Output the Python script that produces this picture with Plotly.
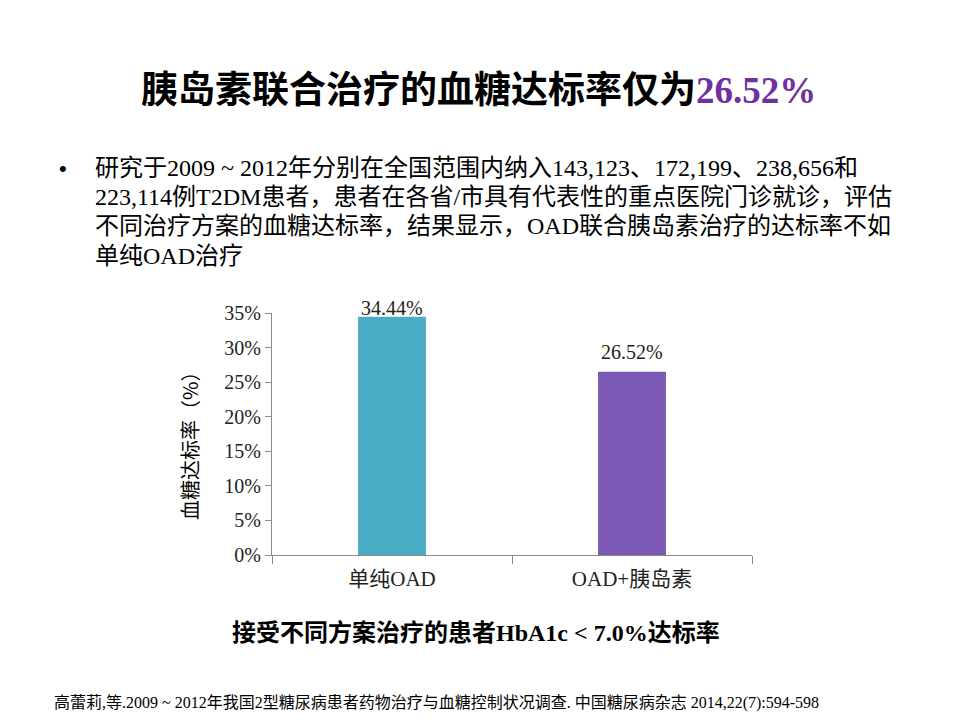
import plotly.graph_objects as go

# chart values
categories = ["单纯OAD", "OAD+胰岛素"]
rates = [34.44, 26.52]
rate_labels = ["34.44%", "26.52%"]
bar_colors = ["#4BACC6", "#7B59B5"]
y_ticks = [0, 5, 10, 15, 20, 25, 30, 35]

title_main = "胰岛素联合治疗的血糖达标率仅为"
title_value = "26.52%"
bullet_lines = [
    "研究于2009 ~ 2012年分别在全国范围内纳入143,123、172,199、238,656和",
    "223,114例T2DM患者，患者在各省/市具有代表性的重点医院门诊就诊，评估",
    "不同治疗方案的血糖达标率，结果显示，OAD联合胰岛素治疗的达标率不如",
    "单纯OAD治疗",
]
caption = "接受不同方案治疗的患者HbA1c < 7.0%达标率"
y_title = "血糖达标率（%）"
footer = ("高蕾莉,等.2009 ~ 2012年我国2型糖尿病患者药物治疗与血糖控制状况调查. "
          "中国糖尿病杂志 2014,22(7):594-598")

FONT = "Liberation Serif, Noto Sans CJK SC"
W, H = 960, 720
OFF = 8  # page body margin shifts the figure by this much
L, R, T, B = 272 - OFF, 208 + OFF, 313 - OFF, 165 + OFF


def px(x):
    # screen pixel x -> paper x
    return (x - OFF - L) / (W - L - R)


def py(y):
    # screen pixel y (from top) -> paper y
    return (H - B - (y - OFF)) / (H - T - B)


fig = go.Figure()

fig.add_trace(go.Bar(
    x=categories,
    y=rates,
    marker=dict(color=bar_colors, line=dict(width=0)),
    width=0.283,
    hoverinfo="x+y",
))

annotations = []

# value labels above the bars
for cat, val, lab, shift in zip(categories, rates, rate_labels, [-4, 7]):
    annotations.append(dict(
        x=cat, y=val, xref="x", yref="y", text=lab, showarrow=False,
        yanchor="bottom", yshift=shift,
        font=dict(family=FONT, size=20, color="#222222"),
    ))

# slide title
annotations.append(dict(
    x=px(478), y=py(90), xref="paper", yref="paper", showarrow=False,
    text=(f"<b>{title_main}</b>"
          f"<b><span style='color:#7030A0'>{title_value}</span></b>"),
    font=dict(family=FONT, size=37, color="#000000"),
    xanchor="center", yanchor="middle",
))

# bullet and body text
annotations.append(dict(
    x=px(63), y=py(168), xref="paper", yref="paper", showarrow=False,
    text="•", font=dict(family="Liberation Sans", size=22, color="#000000"),
    xanchor="center", yanchor="middle",
))
for i, line in enumerate(bullet_lines):
    annotations.append(dict(
        x=px(93), y=py(168 + 29.2 * i), xref="paper", yref="paper",
        showarrow=False, text=line,
        font=dict(family=FONT, size=24, color="#000000"),
        xanchor="left", yanchor="middle",
    ))

# y axis title
annotations.append(dict(
    x=px(189), y=py(441), xref="paper", yref="paper", showarrow=False,
    text=y_title, textangle=-90,
    font=dict(family="Noto Sans CJK SC, Liberation Serif", size=20,
              color="#000000"),
    xanchor="center", yanchor="middle",
))

# chart caption
annotations.append(dict(
    x=px(476), y=py(632), xref="paper", yref="paper", showarrow=False,
    text=f"<b>{caption}</b>",
    font=dict(family=FONT, size=24, color="#000000"),
    xanchor="center", yanchor="middle",
))

# reference
annotations.append(dict(
    x=px(52), y=py(703), xref="paper", yref="paper", showarrow=False,
    text=footer, font=dict(family=FONT, size=16, color="#000000"),
    xanchor="left", yanchor="middle",
))

fig.update_layout(
    width=W, height=H,
    margin=dict(l=L, r=R, t=T, b=B),
    paper_bgcolor="white", plot_bgcolor="white",
    showlegend=False,
    annotations=annotations,
    font=dict(family=FONT, color="#000000"),
)

fig.update_xaxes(
    type="category",
    range=[-0.5, 1.5],
    showline=True, linecolor="#8C8C8C", linewidth=1,
    ticks="outside", tickson="boundaries", ticklen=8, tickcolor="#8C8C8C",
    ticklabelstandoff=5,
    showgrid=False, zeroline=False,
    tickfont=dict(family=FONT, size=21, color="#222222"),
)

fig.update_yaxes(
    range=[0, 35],
    tickvals=y_ticks,
    ticktext=[f"{v}%" for v in y_ticks],
    showline=True, linecolor="#8C8C8C", linewidth=1,
    ticks="outside", ticklen=6, tickcolor="#8C8C8C",
    showgrid=False, zeroline=False,
    tickfont=dict(family=FONT, size=20, color="#222222"),
)

fig.write_html("out.html")
